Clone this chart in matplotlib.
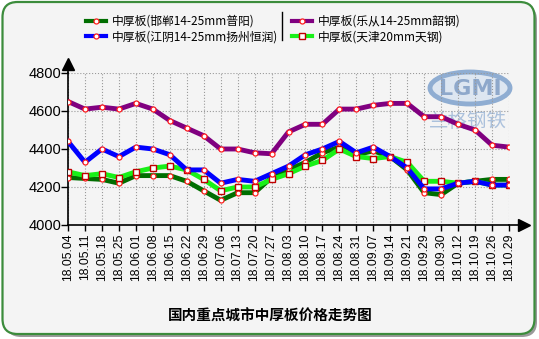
import numpy as np
import matplotlib
matplotlib.use("Agg")
import matplotlib.pyplot as plt
from matplotlib.patches import FancyBboxPatch, Ellipse
from matplotlib.lines import Line2D

plt.rcParams['font.family'] = ['Noto Sans CJK SC', 'DejaVu Sans']

dates = ["18.05.04", "18.05.11", "18.05.18", "18.05.25", "18.06.01", "18.06.08",
         "18.06.15", "18.06.22", "18.06.29", "18.07.06", "18.07.13", "18.07.20",
         "18.07.27", "18.08.03", "18.08.10", "18.08.17", "18.08.24", "18.08.31",
         "18.09.07", "18.09.14", "18.09.21", "18.09.29", "18.09.30", "18.10.12",
         "18.10.19", "18.10.26", "18.10.29"]

# 邯郸 14-25mm 普阳
handan = [4250, 4245, 4240, 4220, 4260, 4260, 4260, 4230, 4180, 4130, 4170, 4170,
          4250, 4290, 4330, 4380, 4410, 4370, 4390, 4360, 4290, 4170, 4160, 4220,
          4230, 4240, 4240]
# 江阴 14-25mm 扬州恒润
jiangyin = [4440, 4330, 4400, 4360, 4410, 4400, 4370, 4290, 4290, 4220, 4240, 4230,
            4270, 4310, 4370, 4400, 4440, 4380, 4410, 4360, 4300, 4190, 4190, 4220,
            4230, 4210, 4210]
# 乐从 14-25mm 韶钢
lecong = [4650, 4610, 4620, 4610, 4640, 4610, 4550, 4510, 4470, 4400, 4400, 4380,
          4375, 4490, 4530, 4530, 4610, 4610, 4630, 4640, 4640, 4570, 4570, 4530,
          4500, 4420, 4410]
# 天津 20mm 天钢
tianjin = [4280, 4260, 4270, 4250, 4280, 4300, 4310, 4290, 4240, 4180, 4200, 4200,
           4240, 4270, 4310, 4340, 4400, 4360, 4350, 4360, 4330, 4230, 4230, 4220,
           4230, 4210, 4210]

labels = ["中厚板(邯郸14-25mm普阳)", "中厚板(江阴14-25mm扬州恒润)",
          "中厚板(乐从14-25mm韶钢)", "中厚板(天津20mm天钢)"]
yticks = [4000, 4200, 4400, 4600, 4800]

W, H = 539, 339
fig = plt.figure(figsize=(W / 100, H / 100), dpi=100, facecolor="white")

# rounded panel with shadow
shadow = FancyBboxPatch((6 / W, 1 - 337 / H), 531 / W, 332 / H,
                        boxstyle="round,pad=0,rounding_size=0.028",
                        mutation_aspect=W / H, transform=fig.transFigure,
                        facecolor="#9a9a9a", edgecolor="none", zorder=-2)
panel = FancyBboxPatch((2.5 / W, 1 - 334 / H), 532 / W, 332 / H,
                       boxstyle="round,pad=0,rounding_size=0.028",
                       mutation_aspect=W / H, transform=fig.transFigure,
                       facecolor="#f4f4f4", edgecolor="#3c8c3c", linewidth=1.6,
                       zorder=-1)
fig.patches.extend([shadow, panel])

# watermark logo
fig.patches.append(Ellipse((470 / W, 1 - 88 / H), 80 / W, 32 / H, transform=fig.transFigure,
                           facecolor="#dde6f1", edgecolor="#8fadd2", linewidth=3.5,
                           zorder=-0.5))
fig.text(470 / W, 1 - 89 / H, "LGMI", ha="center", va="center", fontsize=16,
         fontweight="bold", color="#8ea8cb", zorder=-0.4,
         family=["DejaVu Sans"])
fig.text(468 / W, 1 - 121 / H, "兰格钢铁", ha="center", va="center", fontsize=14,
         color="#9fb8d8", alpha=0.85, zorder=-0.4)

x0, x1 = 68, 509
y0, y1 = 225, 73
ax = fig.add_axes([x0 / W, 1 - y0 / H, (x1 - x0) / W, (y0 - y1) / H])
ax.set_facecolor("none")
ax.set_zorder(2)
x = np.arange(len(dates))

ax.grid(True, color="#9a9a9a", linestyle=":", linewidth=0.8)
ax.set_axisbelow(True)

circ = dict(marker="o", markersize=3.6, markerfacecolor="white",
            markeredgecolor="#ff2020", markeredgewidth=0.9)
sq = dict(marker="s", markersize=5, markerfacecolor="white",
          markeredgecolor="#c00000", markeredgewidth=1.0)

lw = 3.5
h1, = ax.plot(x, handan, color="#006e00", linewidth=lw, label=labels[0], zorder=3, **circ)
h2, = ax.plot(x, jiangyin, color="#0000ff", linewidth=lw, label=labels[1], zorder=4, **circ)
h3, = ax.plot(x, lecong, color="#800080", linewidth=lw, label=labels[2], zorder=4, **circ)
h4, = ax.plot(x, tianjin, color="#18f018", linewidth=lw, label=labels[3], zorder=3.5, **sq)

ax.set_xlim(0, len(dates) - 1)
ax.set_ylim(4000, 4800)
ax.set_xticks(x)
ax.set_xticklabels(dates, rotation=90, fontsize=8.8, family=["Liberation Sans"])
ax.set_yticks(yticks)
ax.set_yticklabels([str(v) for v in yticks], fontsize=10.5, family=["Liberation Sans"])
ax.tick_params(axis="x", direction="out", length=4, width=1, pad=2)
ax.tick_params(axis="y", direction="out", length=5, width=1, pad=0)

for s in ["top", "right"]:
    ax.spines[s].set_visible(False)
for s in ["left", "bottom"]:
    ax.spines[s].set_linewidth(1.2)

# axis arrows
ax.plot([len(dates) - 1, len(dates) - 0.3], [4000, 4000], color="black", lw=1.2,
        clip_on=False)
ax.plot(len(dates) - 0.1, 4000, marker=">", markersize=9, color="black", clip_on=False)
ax.plot([0, 0], [4800, 4840], color="black", lw=1.2, clip_on=False)
ax.plot(0, 4850, marker="^", markersize=9, color="black", clip_on=False)

leg = fig.legend(handles=[h1, h2, h3, h4], loc="upper left", ncol=2,
                 bbox_to_anchor=(80 / W, 1 - 9 / H), frameon=False, fontsize=8.5,
                 handlelength=1.7, handletextpad=0.5, columnspacing=1.15,
                 labelspacing=0.2, borderpad=0)
for ln in leg.get_lines():
    ln.set_linewidth(3)
fig.lines.append(Line2D([282 / W, 282 / W], [1 - 12 / H, 1 - 40 / H],
                        transform=fig.transFigure, color="black", linewidth=1))

fig.text(270 / W, 1 - 316 / H, "国内重点城市中厚板价格走势图", ha="center", va="center",
         fontsize=10.5, fontweight="bold")

fig.savefig("out.png", dpi=100, facecolor=fig.get_facecolor())
